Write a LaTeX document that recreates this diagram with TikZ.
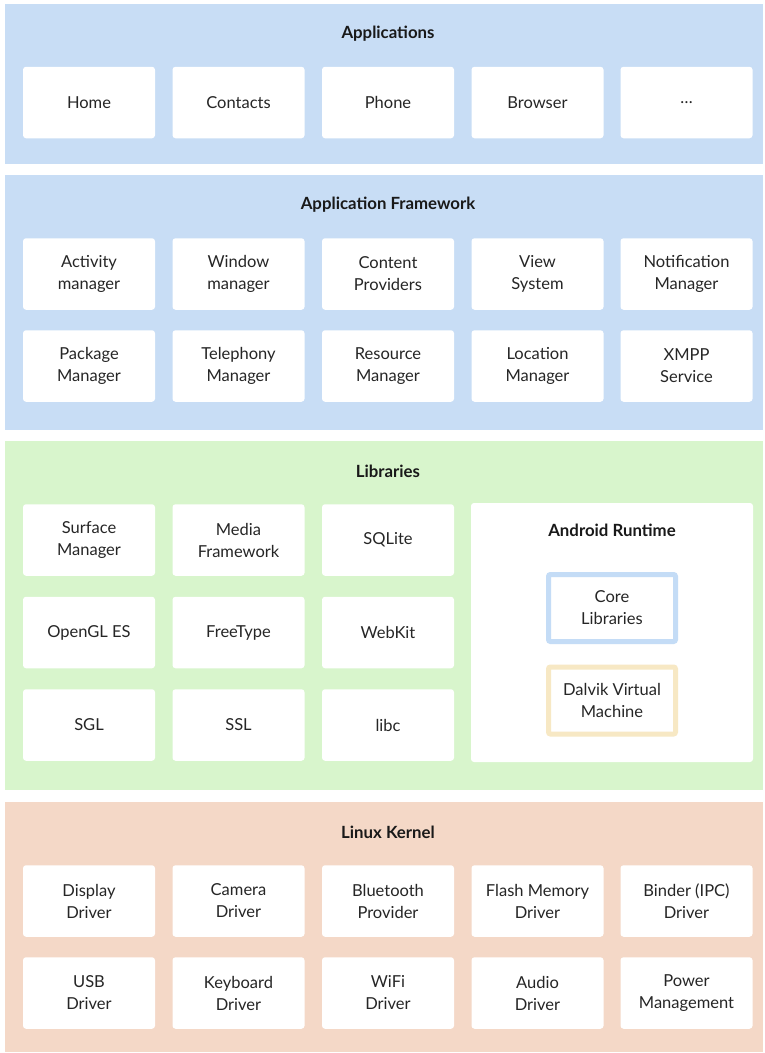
\documentclass[tikz,border=0pt]{standalone}
\usepackage{fontspec}
\setmainfont{Lato}
\definecolor{bandblue}{HTML}{C8DDF5}
\definecolor{bandgreen}{HTML}{D8F5CC}
\definecolor{bandpeach}{HTML}{F4D8C7}
\definecolor{coreblue}{HTML}{C4DCF6}
\definecolor{dalvikyel}{HTML}{F7E8C4}
\begin{document}
\begin{tikzpicture}[x=1pt,y=-1pt,
  cell/.style={fill=white,draw=none,rounded corners=3pt,inner sep=0pt,
    minimum width=132pt,minimum height=71.5pt,align=center,
    font=\fontsize{16.5}{22}\selectfont,text=black!85},
  title/.style={font=\bfseries\fontsize{16.8}{20}\selectfont,text=black!90},
  inner/.style={fill=white,line width=5pt,rounded corners=2pt,inner sep=0pt,
    minimum width=127pt,minimum height=67pt,align=center,
    font=\fontsize{16.5}{22}\selectfont,text=black!85}]
\useasboundingbox (0,0) rectangle (764,1053);
\fill[white] (0,0) rectangle (764,1053);
% bands
\fill[bandblue] (5,4) rectangle (763,164);
\fill[bandblue] (5,175) rectangle (763,430);
\fill[bandgreen] (5,441) rectangle (763,790);
\fill[bandpeach] (5,802) rectangle (763,1052);
% titles
\node[title] (tapp) at (388,34) {Applications};
\node[title] (tfw) at (388,205) {Application Framework};
\node[title] (tlib) at (388,471) {Libraries};
\node[title] (tlk) at (388,832) {Linux Kernel};
% Applications
\node[cell] (home) at (89,102.5) {Home};
\node[cell] (contacts) at (238.5,102.5) {Contacts};
\node[cell] (phone) at (388,102.5) {Phone};
\node[cell] (browser) at (537.5,102.5) {Browser};
\node[cell] (dots) at (686.5,102.5) {\dots};
% Framework
\node[cell] (am) at (89,274) {Activity\\manager};
\node[cell] (wm) at (238.5,274) {Window\\manager};
\node[cell] (cp) at (388,274) {Content\\Providers};
\node[cell] (vs) at (537.5,274) {View\\System};
\node[cell] (nm) at (686.5,274) {Notification\\Manager};
\node[cell] (pm) at (89,366) {Package\\Manager};
\node[cell] (tm) at (238.5,366) {Telephony\\Manager};
\node[cell] (rm) at (388,366) {Resource\\Manager};
\node[cell] (lm) at (537.5,366) {Location\\Manager};
\node[cell] (xmpp) at (686.5,366) {XMPP\\Service};
% Libraries
\node[cell] (sm) at (89,540) {Surface\\Manager};
\node[cell] (mf) at (238.5,540) {Media\\Framework};
\node[cell] (sqlite) at (388,540) {SQLite};
\node[cell] (opengl) at (89,632.5) {OpenGL ES};
\node[cell] (freetype) at (238.5,632.5) {FreeType};
\node[cell] (webkit) at (388,632.5) {WebKit};
\node[cell] (sgl) at (89,725) {SGL};
\node[cell] (ssl) at (238.5,725) {SSL};
\node[cell] (libc) at (388,725) {libc};
% Android runtime
\node[cell,minimum width=282pt,minimum height=259pt] (art) at (612,632.5) {};
\node[title] (tart) at (612,530) {Android Runtime};
\node[inner,draw=coreblue] (core) at (612,608) {Core\\Libraries};
\node[inner,draw=dalvikyel] (dalvik) at (612,700.5) {Dalvik Virtual\\Machine};
% Linux kernel
\node[cell] (disp) at (89,901) {Display\\Driver};
\node[cell] (cam) at (238.5,901) {Camera\\Driver};
\node[cell] (bt) at (388,901) {Bluetooth\\Provider};
\node[cell] (flash) at (537.5,901) {Flash Memory\\Driver};
\node[cell] (binder) at (686.5,901) {Binder (IPC)\\Driver};
\node[cell] (usb) at (89,993) {USB\\Driver};
\node[cell] (kbd) at (238.5,993) {Keyboard\\Driver};
\node[cell] (wifi) at (388,993) {WiFi\\Driver};
\node[cell] (audio) at (537.5,993) {Audio\\Driver};
\node[cell] (power) at (686.5,993) {Power\\Management};
\end{tikzpicture}
\end{document}
